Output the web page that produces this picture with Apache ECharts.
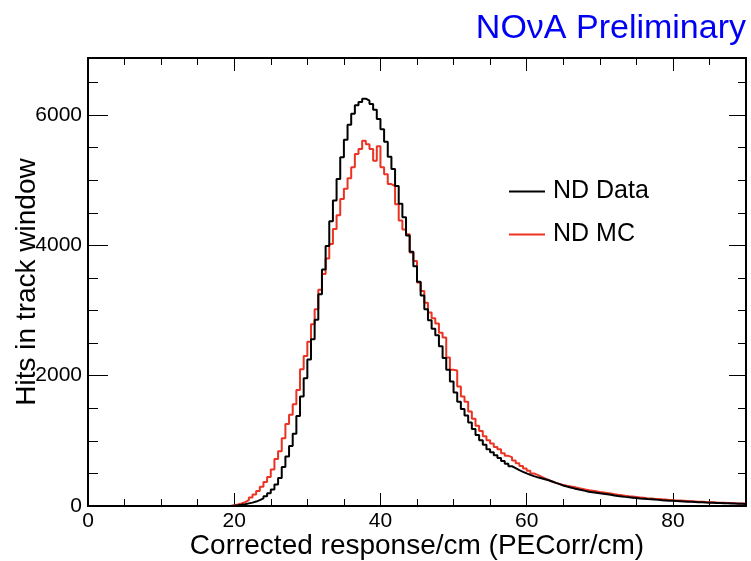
<!DOCTYPE html>
<html><head><meta charset="utf-8">
<script src="https://cdn.jsdelivr.net/npm/echarts@6/dist/echarts.min.js"></script>
<style>html,body{margin:0;padding:0;background:#fff}#c{width:751px;height:561px}</style>
</head><body><div id="c"></div>
<script>
// Histogram binning (PECorr/cm)
const binLow = 0;
const binWidth = 0.5;
// ND Data, 180 bins from 0 to 90
const ndData = [
0,0,0,0,0,0,0,0,0,0, 0,0,0,0,0,0,0,0,0,0,
0,0,0,0,0,0,0,0,0,0, 0,0,0,0,0,0,0,0,0,5,
10,18,28,40,52,68,90,118,150,195,
255,330,430,600,760,920,1110,1380,1680,1960,
2250,2560,2860,3250,3630,3990,4370,4690,5020,5350,
5620,5850,6020,6150,6200,6250,6220,6170,6080,5940,
5780,5590,5360,5170,4910,4640,4430,4150,3900,3680,
3440,3230,3020,2850,2720,2620,2450,2270,2090,1910,
1740,1600,1490,1390,1280,1180,1090,1010,940,870,
825,780,735,690,650,610,580,550,525,500,
478,458,440,425,410,395,375,355,335,315,
298,285,270,257,244,232,220,212,204,196,
188,180,171,162,154,147,140,134,128,122,
116,111,106,102,98,94,90,86,82,79,
76,73,70,67,64,61,58,56,53,51,
49,47,45,43,41,39,37,35,33,31
];
// ND MC, 180 bins from 0 to 90
const ndMC = [
0,0,0,0,0,0,0,0,0,0, 0,0,0,0,0,0,0,0,0,0,
0,0,0,0,0,0,0,0,0,0, 0,0,0,0,0,0,0,0,0,10,
22,38,60,90,130,175,230,295,370,445,
560,720,840,1040,1260,1400,1560,1780,2100,2300,
2520,2790,3020,3320,3560,3800,4020,4250,4460,4710,
4870,5030,5200,5400,5480,5605,5550,5480,5300,5520,
5200,5090,4940,4910,4630,4380,4245,4170,3890,3760,
3430,3300,3120,2970,2880,2800,2660,2585,2280,2090,
2080,1835,1680,1600,1450,1340,1230,1150,1070,1010,
960,905,870,810,770,750,700,655,615,575,
540,500,478,450,425,400,375,355,340,322,
310,300,290,278,265,252,243,234,225,216,
208,200,191,182,173,165,157,150,144,138,
132,126,120,116,111,107,102,98,94,90,
86,83,80,77,74,71,67,64,61,58,
56,53,51,49,47,45,42,40,38,36
];
const seriesNames = ['ND Data', 'ND MC'];
const xRange = [0, 90];
const yRange = [0, 6875];
const xMajor = 20, xMinor = 5;
const yMajor = 2000, yMinor = 500;

function toSteps(vals) {
  const pts = vals.map((v, i) => [binLow + i * binWidth, v]);
  pts.push([binLow + vals.length * binWidth, vals[vals.length - 1]]);
  return pts;
}

const FONT = '"Liberation Sans", Arial, Helvetica, sans-serif';
const chart = echarts.init(document.getElementById('c'), null, {renderer: 'canvas'});

function plainNum(v) { return String(v); }
function xAx(pos, interval, len, labels) {
  return {
    type: 'value', position: pos, min: xRange[0], max: xRange[1], interval: interval,
    axisLine: {show: false, onZero: false},
    axisTick: {show: true, inside: true, length: len, lineStyle: {color: '#000', width: 1}},
    axisLabel: labels ? {show: true, fontSize: 21, color: '#000', fontFamily: FONT, margin: 5, showMaxLabel: false, formatter: plainNum} : {show: false},
    splitLine: {show: false}
  };
}
function yAx(pos, interval, len, labels) {
  return {
    type: 'value', position: pos, min: yRange[0], max: yRange[1], interval: interval,
    axisLine: {show: false, onZero: false},
    axisTick: {show: true, inside: true, length: len, lineStyle: {color: '#000', width: 1}},
    axisLabel: labels ? {show: true, fontSize: 21, color: '#000', fontFamily: FONT, margin: 6, showMaxLabel: false, formatter: plainNum} : {show: false},
    splitLine: {show: false}
  };
}

const xMain = xAx('bottom', xMajor, 13, true);
xMain.name = 'Corrected response/cm (PECorr/cm)';
xMain.nameLocation = 'middle';
xMain.nameGap = 26;
xMain.nameMoveOverlap = false;
xMain.nameTextStyle = {fontSize: 28, color: '#000', fontFamily: FONT};
const yMain = yAx('left', yMajor, 20, true);
yMain.name = 'Hits in track window';
yMain.nameLocation = 'middle';
yMain.nameGap = 47;
yMain.nameMoveOverlap = false;
yMain.nameTextStyle = {fontSize: 28, color: '#000', fontFamily: FONT};

chart.setOption({
  animation: false,
  backgroundColor: '#fff',
  title: {
    text: 'NOνA Preliminary', right: 0, top: 7,
    textStyle: {fontSize: 34, fontWeight: 'normal', color: '#0000f5', fontFamily: FONT}
  },
  legend: {
    orient: 'vertical', left: 509, top: 179, padding: 0,
    itemWidth: 36, itemHeight: 2, itemGap: 18, icon: 'rect',
    textStyle: {fontSize: 25, color: '#000', fontFamily: FONT, padding: [0, 0, 0, 3]},
    data: seriesNames
  },
  grid: {left: 88, right: 5, top: 58, bottom: 55, show: true, borderColor: '#000', borderWidth: 2,
         backgroundColor: 'transparent', containLabel: false, outerBoundsMode: 'none'},
  xAxis: [xMain, xAx('bottom', xMinor, 7, false), xAx('top', xMajor, 13, false), xAx('top', xMinor, 7, false)],
  yAxis: [yMain, yAx('left', yMinor, 10, false), yAx('right', yMajor, 17, false), yAx('right', yMinor, 8, false)],
  series: [
    {name: seriesNames[1], type: 'line', step: 'end', symbol: 'none', data: toSteps(ndMC),
     color: '#ea3323', lineStyle: {color: '#ea3323', width: 2}, z: 2},
    {name: seriesNames[0], type: 'line', step: 'end', symbol: 'none', data: toSteps(ndData),
     color: '#000', lineStyle: {color: '#000', width: 2}, z: 3}
  ]
});
</script>
</body></html>
